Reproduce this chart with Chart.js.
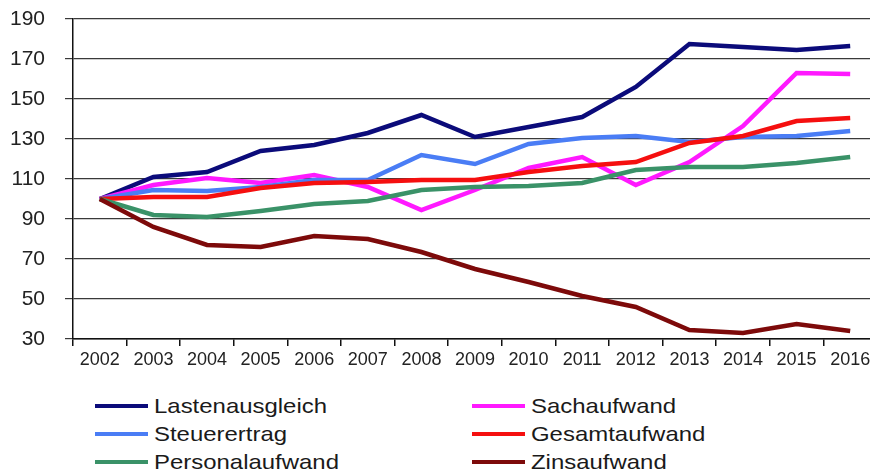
<!DOCTYPE html>
<html>
<head>
<meta charset="utf-8">
<script src="https://cdn.jsdelivr.net/npm/chart.js@4"></script>
<style>
  html, body { margin: 0; padding: 0; background: #fff; overflow: hidden; }
  #wrap { position: relative; width: 880px; height: 475px; }
  #chartBox { position: absolute; left: 0; top: 0; width: 880px; height: 380px; }
  .leg { position: absolute; height: 28px; display: flex; align-items: center;
         font-family: "Liberation Sans", Arial, sans-serif; font-size: 21px; color: #1a1a1a; }
  .leg .swatch { width: 53px; height: 4px; margin-right: 6px; }
  .leg span { display: inline-block; transform: scaleX(1.14); transform-origin: left center; white-space: nowrap; }
</style>
</head>
<body>
<div id="wrap">
  <div id="chartBox"><canvas id="indexChart" width="880" height="380"></canvas></div>
  <div id="legend"></div>
</div>
<script>
const years = ['2002', '2003', '2004', '2005', '2006', '2007', '2008', '2009',
  '2010', '2011', '2012', '2013', '2014', '2015', '2016'];

const lastenausgleich = [100, 111, 113.5, 124, 127, 133, 142, 131, 136, 141, 156, 177.5, 176, 174.5, 176.5];
const sachaufwand     = [100, 107, 110.5, 108, 112, 106, 94.5, 104.5, 115.5, 121, 107, 118.5, 136.5, 163, 162.5];
const steuerertrag    = [100, 104.5, 104, 106, 109.5, 109.5, 122, 117.5, 127.5, 130.5, 131.5, 128.5, 131, 131.5, 134];
const gesamtaufwand   = [100, 101, 101, 105.5, 108, 108.5, 109.5, 109.5, 113.5, 116.5, 118.5, 128, 131.5, 139, 140.5];
const personalaufwand = [100, 92, 91, 94, 97.5, 99, 104.5, 106, 106.5, 108, 114.5, 116, 116, 118, 121];
const zinsaufwand     = [100, 86, 77, 76, 81.5, 80, 73.5, 65, 58.5, 51.5, 46, 34.5, 33, 37.5, 34];

const yTicks = [30, 50, 70, 90, 110, 130, 150, 170, 190];

// legend order: left column then right column, row by row
const series = [
  { label: 'Lastenausgleich', data: lastenausgleich, color: '#0b0b7a', col: 0, row: 0 },
  { label: 'Sachaufwand',     data: sachaufwand,     color: '#ff19ff', col: 1, row: 0 },
  { label: 'Steuerertrag',    data: steuerertrag,    color: '#4a7df5', col: 0, row: 1 },
  { label: 'Gesamtaufwand',   data: gesamtaufwand,   color: '#f50f0f', col: 1, row: 1 },
  { label: 'Personalaufwand', data: personalaufwand, color: '#3a9268', col: 0, row: 2 },
  { label: 'Zinsaufwand',     data: zinsaufwand,     color: '#7d0a0a', col: 1, row: 2 },
];

const font = "'Liberation Sans', Arial, sans-serif";

new Chart(document.getElementById('indexChart'), {
  type: 'line',
  data: {
    labels: years,
    datasets: series.map((s, i) => ({
      label: s.label,
      data: s.data,
      borderColor: s.color,
      backgroundColor: s.color,
      borderWidth: 4.5,
      pointRadius: 0,
      tension: 0,
      order: series.length - i
    }))
  },
  options: {
    responsive: false,
    animation: false,
    layout: { padding: { top: 19, right: 3, left: 0, bottom: 0 } },
    plugins: { legend: { display: false }, tooltip: { enabled: false } },
    scales: {
      x: {
        offset: true,
        afterFit: s => { s.height = 41; s.paddingLeft = 0; s.paddingRight = 0; },
        border: { color: '#111', width: 1.5 },
        grid: { offset: true, drawOnChartArea: false, drawTicks: true, tickLength: 7, color: '#111', lineWidth: 1.5 },
        ticks: { color: '#222', font: { family: font, size: 18 }, padding: 3, maxRotation: 0, autoSkip: false }
      },
      y: {
        min: 30,
        max: 190,
        afterFit: s => { s.width = 73; s.paddingTop = 0; s.paddingBottom = 0; },
        afterBuildTicks: s => { s.ticks = yTicks.map(v => ({ value: v })); },
        border: { color: '#111', width: 1.5 },
        grid: { color: '#3a3a3a', lineWidth: 1.2, drawTicks: true, tickLength: 8 },
        ticks: { color: '#222', font: { family: font, size: 21 }, padding: 20 }
      }
    }
  }
});

// two-column legend below the plot
const legend = document.getElementById('legend');
series.forEach(s => {
  const item = document.createElement('div');
  item.className = 'leg';
  item.style.left = (s.col === 0 ? 95 : 472) + 'px';
  item.style.top = (392 + s.row * 28) + 'px';
  item.innerHTML = `<div class="swatch" style="background:${s.color}"></div><span>${s.label}</span>`;
  legend.appendChild(item);
});
</script>
</body>
</html>
